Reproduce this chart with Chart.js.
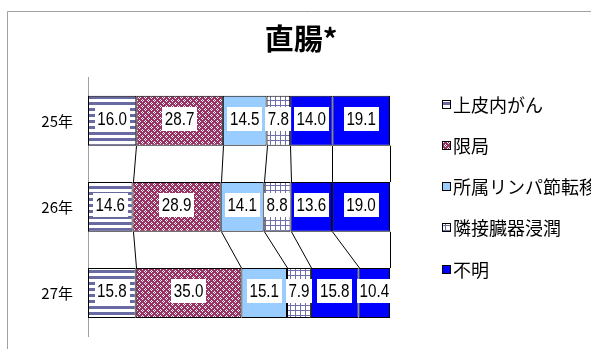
<!DOCTYPE html>
<html>
<head>
<meta charset="utf-8">
<script src="https://cdn.jsdelivr.net/npm/chart.js@4.4.1/dist/chart.umd.min.js"></script>
<style>
  html, body { margin: 0; padding: 0; background: #fff; overflow: hidden; }
  #wrap { width: 591px; height: 349px; overflow: hidden; }
  canvas { display: block; }
</style>
</head>
<body>
<div id="wrap"><canvas id="stageChart" width="614" height="360"></canvas></div>
<script>
// values (percent per year)
const years = ['25年', '26年', '27年'];
const stages = ['上皮内がん', '限局', '所属リンパ節転移', '隣接臓器浸潤', '遠隔転移', '不明'];
const inSitu    = [16.0, 14.6, 15.8];
const localized = [28.7, 28.9, 35.0];
const regional  = [14.5, 14.1, 15.1];
const adjacent  = [7.8, 8.8, 7.9];
const distant   = [14.0, 13.6, 15.8];
const unknown   = [19.1, 19.0, 10.4];
const legendShown = ['上皮内がん', '限局', '所属リンパ節転移', '隣接臓器浸潤', '不明'];

const JP = '"Noto Sans CJK JP", "Noto Sans", sans-serif';
const NUM = '"Liberation Sans", Arial, sans-serif';

const canvas = document.getElementById('stageChart');
const ctx = canvas.getContext('2d');

function tile(w, h, paint) {
    const c = document.createElement('canvas');
    c.width = w; c.height = h;
    paint(c.getContext('2d'));
    return ctx.createPattern(c, 'repeat');
}

const stripes = tile(1, 6, g => {
    g.fillStyle = '#fff'; g.fillRect(0, 0, 1, 6);
    g.fillStyle = '#6a6aa2'; g.fillRect(0, 0, 1, 3);
});
const confetti = tile(6, 6, g => {
    g.fillStyle = '#993366'; g.fillRect(0, 0, 6, 6);
    g.fillStyle = '#fff';
    [[1,0],[0,1],[2,1],[1,2],[4,3],[3,4],[5,4],[4,5]].forEach(p => g.fillRect(p[0], p[1], 1, 1));
});
const grid = tile(5, 5, g => {
    g.fillStyle = '#fff'; g.fillRect(0, 0, 5, 5);
    g.fillStyle = '#7070a8'; g.fillRect(0, 0, 5, 1); g.fillRect(0, 0, 1, 5);
});

const fills = [stripes, confetti, '#99ccff', grid, '#0000ff', '#0000ff'];
const series = [inSitu, localized, regional, adjacent, distant, unknown];

// 100% stacked: each year is scaled to its own total
const totals = years.map((_, j) => series.reduce((s, arr) => s + arr[j], 0));
const shares = series.map(arr => arr.map((v, j) => v / totals[j] * 100));

const framePlugin = {
    id: 'frame',
    beforeDraw(chart) {
        const c = chart.ctx;
        c.save();
        c.fillStyle = '#fff';
        c.fillRect(0, 0, chart.width, chart.height);
        c.strokeStyle = '#a0a0a0';
        c.lineWidth = 1;
        c.beginPath();
        c.moveTo(7.5, chart.height + 5);
        c.lineTo(7.5, 11.5);
        c.lineTo(chart.width + 5, 11.5);
        c.stroke();
        c.restore();
    }
};

const seriesLinesPlugin = {
    id: 'seriesLines',
    afterDatasetsDraw(chart) {
        const c = chart.ctx;
        c.save();
        c.strokeStyle = '#000';
        c.lineWidth = 1;
        chart.data.datasets.forEach((ds, i) => {
            const bars = chart.getDatasetMeta(i).data;
            for (let j = 0; j < bars.length - 1; j++) {
                const a = bars[j], b = bars[j + 1];
                c.beginPath();
                c.moveTo(Math.round(a.x) + 0.5, a.y + a.height / 2);
                c.lineTo(Math.round(b.x) + 0.5, b.y - b.height / 2);
                c.stroke();
            }
        });
        c.restore();
    }
};

// white boxed value labels; the reference font is a narrow face, so squeeze it
const valueLabelsPlugin = {
    id: 'valueLabels',
    afterDatasetsDraw(chart) {
        const c = chart.ctx;
        const squeeze = 0.8;
        c.save();
        c.font = '19px ' + NUM;
        c.textAlign = 'center';
        c.textBaseline = 'middle';
        chart.data.datasets.forEach((ds, i) => {
            chart.getDatasetMeta(i).data.forEach((bar, j) => {
                const txt = ds.values[j].toFixed(1);
                const tw = c.measureText(txt).width * squeeze;
                const cx = (bar.x + bar.base) / 2;
                const cy = bar.y - 2;
                c.fillStyle = '#fff';
                c.fillRect(Math.round(cx - tw / 2 - 2.5), Math.round(cy - 12), Math.round(tw + 5), 24);
                c.fillStyle = '#000';
                c.save();
                c.translate(cx, cy + 1);
                c.scale(squeeze, 1);
                c.fillText(txt, 0, 0);
                c.restore();
            });
        });
        c.restore();
    }
};

const sideLegendPlugin = {
    id: 'sideLegend',
    afterDraw(chart) {
        const c = chart.ctx;
        const area = chart.chartArea;
        const x0 = area.right + 52;
        const y0 = area.top + 26;
        c.save();
        c.font = '18px ' + JP;
        c.textBaseline = 'middle';
        legendShown.forEach((name, k) => {
            const i = stages.indexOf(name);
            const y = Math.round(y0 + k * 41.2);
            c.fillStyle = fills[i];
            c.fillRect(x0, y - 4, 9, 9);
            c.strokeStyle = '#000';
            c.lineWidth = 1;
            c.strokeRect(x0 + 0.5, y - 3.5, 8, 8);
            c.fillStyle = '#000';
            c.fillText(name, x0 + 11, y + 1);
        });
        c.restore();
    }
};

new Chart(ctx, {
    type: 'bar',
    data: {
        labels: years,
        datasets: stages.map((label, i) => ({
            label: label,
            data: shares[i],
            values: series[i],
            backgroundColor: fills[i],
            borderColor: '#000',
            borderWidth: 1,
            borderSkipped: false,
            barPercentage: 0.58,
            categoryPercentage: 1
        }))
    },
    options: {
        indexAxis: 'y',
        responsive: false,
        animation: false,
        devicePixelRatio: 1,
        layout: { padding: { left: 0, right: 12, top: 0, bottom: 0 } },
        plugins: {
            legend: { display: false },
            tooltip: { enabled: false },
            title: {
                display: true,
                text: '直腸*',
                color: '#000',
                font: { family: JP, size: 29, weight: 'bold' },
                padding: { top: 22, bottom: 21 }
            }
        },
        scales: {
            x: { stacked: true, min: 0, max: 100, display: false },
            y: {
                stacked: true,
                grid: { display: false, drawTicks: false },
                border: { color: '#a0a0a0', width: 1 },
                ticks: { color: '#000', padding: 15, font: { family: JP, size: 15 } },
                afterFit: s => { s.width = 88; }
            },
            spacer: {
                axis: 'y',
                type: 'category',
                position: 'right',
                grid: { display: false, drawTicks: false },
                border: { display: false },
                ticks: { display: false },
                afterFit: s => { s.width = 212; }
            }
        }
    },
    plugins: [framePlugin, seriesLinesPlugin, valueLabelsPlugin, sideLegendPlugin]
});
</script>
</body>
</html>
